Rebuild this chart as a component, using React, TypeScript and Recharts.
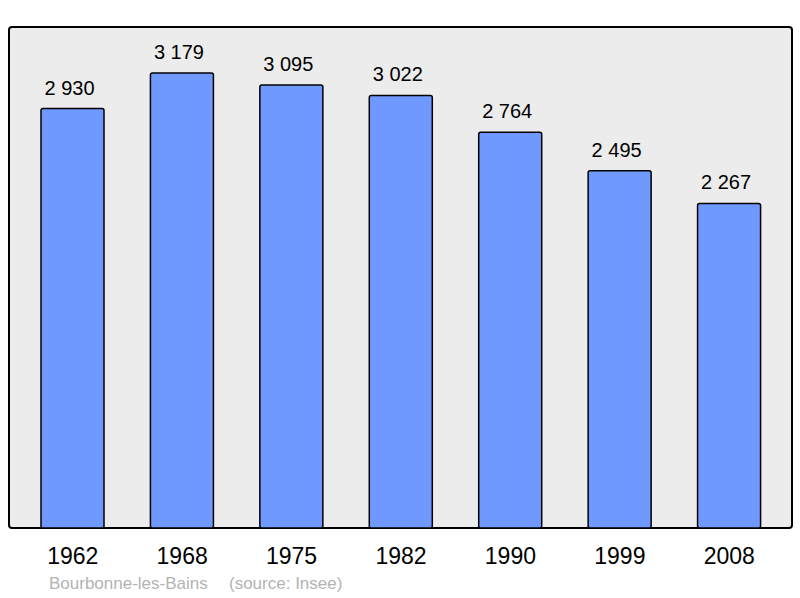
import { BarChart, Bar, XAxis, YAxis, LabelList } from 'recharts';

const years = ['1962', '1968', '1975', '1982', '1990', '1999', '2008'];
const population = [2930, 3179, 3095, 3022, 2764, 2495, 2267];

const data = years.map((year, i) => ({ year, population: population[i] }));

const fmt = (v: number) => String(v).replace(/\B(?=(\d{3})+(?!\d))/g, ' ');

export default function App() {
  return (
    <div style={{ position: 'absolute', left: 0, top: 0, width: 800, height: 598, background: '#fff', fontFamily: '"Liberation Sans", Arial, sans-serif' }}>
      {/* plot frame */}
      <div style={{ position: 'absolute', left: 8, top: 26, width: 785, height: 503, background: '#ececec', border: '2px solid #000', borderRadius: 4, boxSizing: 'border-box' }} />
      <BarChart width={800} height={598} data={data} margin={{ left: 9, top: 27, right: 8, bottom: 30 }} style={{ position: 'absolute', left: 0, top: 0 }}>
        <XAxis dataKey="year" height={40} axisLine={false} tickLine={false} tickSize={0} tickMargin={20} padding={{ left: 9, right: 8 }} tick={{ fill: '#000', fontSize: 23 }} interval={0} />
        <YAxis hide width={0} domain={[0, 3500]} />
        <Bar dataKey="population" barSize={63} fill="#7099ff" stroke="#000" strokeWidth={1.5} radius={2} isAnimationActive={false}>
          <LabelList dataKey="population" position="top" offset={14} dx={-3} formatter={(v: number) => fmt(v)} fill="#000" fontSize={20} />
        </Bar>
      </BarChart>
      <svg width={800} height={598} style={{ position: 'absolute', left: 0, top: 0, pointerEvents: 'none' }}>
        <text x={49} y={589} fill="#b3b3b3" fontSize={17}>Bourbonne-les-Bains</text>
        <text x={229} y={589} fill="#b3b3b3" fontSize={17}>(source: Insee)</text>
      </svg>
    </div>
  );
}
